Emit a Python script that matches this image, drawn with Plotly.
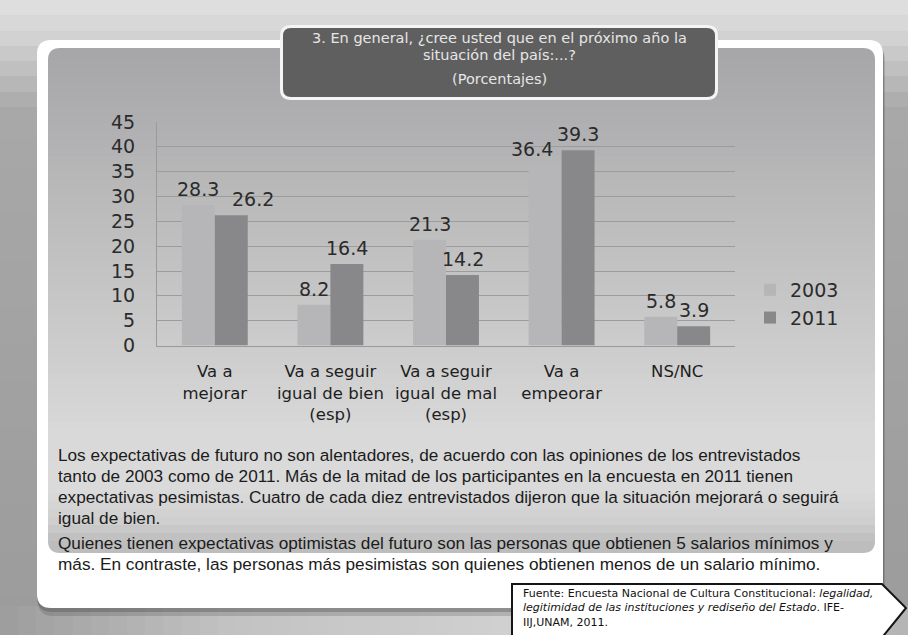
import plotly.graph_objects as go

W, H = 908, 635

# ---------------- data ----------------
categories = ["Va a<br>mejorar", "Va a seguir<br>igual de bien<br>(esp)",
              "Va a seguir<br>igual de mal<br>(esp)", "Va a<br>empeorar", "NS/NC"]
series_names = ["2003", "2011"]
values_2003 = [28.3, 8.2, 21.3, 36.4, 5.8]
values_2011 = [26.2, 16.4, 14.2, 39.3, 3.9]
y_ticks = [0, 5, 10, 15, 20, 25, 30, 35, 40, 45]

title_lines = ["3. En general, ¿cree usted que en el próximo año la",
               "situación del país:...?",
               "(Porcentajes)"]
paragraph_lines = [
    "Los expectativas de futuro no son alentadores, de acuerdo con las opiniones de los entrevistados",
    "tanto de 2003 como de 2011. Más de la mitad de los participantes en la encuesta en 2011 tienen",
    "expectativas pesimistas. Cuatro de cada diez entrevistados dijeron que la situación mejorará o seguirá",
    "igual de bien.",
    "Quienes tienen expectativas optimistas del futuro son las personas que obtienen 5 salarios mínimos y",
    "más. En contraste, las personas más pesimistas son quienes obtienen menos de un salario mínimo.",
]
source_lines = [
    "Fuente: Encuesta Nacional de Cultura Constitucional: <i>legalidad,</i>",
    "<i>legitimidad de las instituciones y rediseño del Estado</i>. IFE-",
    "IIJ,UNAM, 2011.",
]

# label nudges (pixels) for the value labels, per series, per category
label_nudge = {"2003": [0, 0, 0, -13, 0], "2011": [22, 0, 0, 0, 0]}

# ---------------- helpers ----------------
def X(x):
    return x / W


def Y(y):
    return 1 - y / H


def hex2rgb(h):
    h = h.lstrip("#")
    return tuple(int(h[i:i + 2], 16) for i in (0, 2, 4))


def lerp(stops, t):
    for i in range(len(stops) - 1):
        t0, c0 = stops[i]
        t1, c1 = stops[i + 1]
        if t0 <= t <= t1:
            f = 0 if t1 == t0 else (t - t0) / (t1 - t0)
            a, b = hex2rgb(c0), hex2rgb(c1)
            return "rgb(%d,%d,%d)" % tuple(round(a[k] + (b[k] - a[k]) * f) for k in range(3))
    return "rgb(%d,%d,%d)" % hex2rgb(stops[-1][1])


def rr_path(x0, y0, x1, y1, r):
    return (f"M {X(x0 + r)},{Y(y0)} L {X(x1 - r)},{Y(y0)} Q {X(x1)},{Y(y0)} {X(x1)},{Y(y0 + r)} "
            f"L {X(x1)},{Y(y1 - r)} Q {X(x1)},{Y(y1)} {X(x1 - r)},{Y(y1)} "
            f"L {X(x0 + r)},{Y(y1)} Q {X(x0)},{Y(y1)} {X(x0)},{Y(y1 - r)} "
            f"L {X(x0)},{Y(y0 + r)} Q {X(x0)},{Y(y0)} {X(x0 + r)},{Y(y0)} Z")


shapes = []


def rect(x0, y0, x1, y1, color):
    shapes.append(dict(type="rect", xref="paper", yref="paper", layer="below",
                       x0=X(x0), x1=X(x1), y0=Y(y1), y1=Y(y0),
                       fillcolor=color, line=dict(width=0)))


def path(p, color, lw=0, lc="rgba(0,0,0,0)"):
    shapes.append(dict(type="path", xref="paper", yref="paper", layer="below",
                       path=p, fillcolor=color, line=dict(width=lw, color=lc)))


def vgrad(x0, y0, x1, y1, stops, n):
    step = (y1 - y0) / n
    for i in range(n):
        ya = round(y0 + i * step)
        yb = round(y0 + (i + 1) * step) + 1
        c = lerp(stops, (i + 0.5) / n)
        rect(x0, ya, x1, min(y1, yb), c)


def hgrad(x0, y0, x1, y1, stops, n):
    step = (x1 - x0) / n
    for i in range(n):
        xa = round(x0 + i * step)
        xb = round(x0 + (i + 1) * step) + 1
        c = lerp(stops, (i + 0.5) / n)
        rect(xa, y0, min(x1, xb), y1, c)


# ---------------- background ----------------
vgrad(0, 0, W, 612, [(0, "#e0e0e0"), (0.05, "#d6d6d6"), (0.18, "#a8a8a8"), (1, "#9c9c9c")], 40)
hgrad(0, 606, W, H, [(0, "#9c9c9c"), (0.25, "#c2c2c2"), (0.55, "#d0d0d0"), (1, "#b4b4b4")], 50)

# white panel with shadow
path(rr_path(38, 46, 885, 616, 15), "rgba(70,70,70,0.22)")
path(rr_path(37, 42, 884, 612, 15), "rgba(70,70,70,0.32)")
path(rr_path(37, 40, 883, 608, 14), "#ffffff")

# grey gradient panel
gp = (48, 48, 875, 553, 12)
gstops = [(0, "#a7a7aa"), (0.2, "#b4b4b6"), (0.42, "#c2c2c3"), (0.62, "#cecece"),
          (0.78, "#d9d9d9"), (0.9, "#dadada"), (0.96, "#cfcfcf"), (1, "#bdbdbd")]
path(rr_path(gp[0], gp[1], gp[2], gp[1] + 2 * gp[4], gp[4]), lerp(gstops, 0))
path(rr_path(gp[0], gp[3] - 2 * gp[4], gp[2], gp[3], gp[4]), lerp(gstops, 1))
vgrad(gp[0], gp[1] + gp[4], gp[2], gp[3] - gp[4], gstops, 60)

# title box
path(rr_path(280, 25, 718, 100, 11), "#f4f4f4")
path(rr_path(283, 28, 715, 97, 8), "#5f5f5f")

# source box
shapes.append(dict(type="path", xref="paper", yref="paper", layer="below",
                   path=f"M {X(512)},{Y(584)} L {X(882)},{Y(584)} L {X(906)},{Y(608)} "
                        f"L {X(880)},{Y(640)} L {X(512)},{Y(640)} Z",
                   fillcolor="#ffffff", line=dict(width=2, color="#151515")))

# ---------------- chart ----------------
fig = go.Figure()
bar_colors = ["#b6b6b8", "#88888b"]
series_values = [values_2003, values_2011]
for name, vals, col in zip(series_names, series_values, bar_colors):
    fig.add_trace(go.Bar(
        x=categories, y=vals, name=name, marker=dict(color=col, line=dict(width=0)),
        legendgroup=name, hoverinfo="x+y+name",
    ))

annotations = []
# value labels
bar_half = 16.5
for si, (name, vals) in enumerate(zip(series_names, series_values)):
    side = -1 if si == 0 else 1
    for ci, (cat, v) in enumerate(zip(categories, vals)):
        annotations.append(dict(
            text=f"{v:.1f}", x=cat, y=v, xref="x", yref="y", showarrow=False,
            xanchor="center", yanchor="bottom",
            xshift=side * bar_half + label_nudge[name][ci], yshift=3,
            font=dict(family="DejaVu Sans", size=19, color="#2b2b2b")))

for txt, yy in zip(title_lines, [38, 55, 79]):
    annotations.append(dict(text=txt, x=X(499), y=Y(yy), xref="paper", yref="paper",
                            xanchor="center", yanchor="middle", showarrow=False,
                            font=dict(family="DejaVu Sans", size=14.5, color="#e6e6e6")))
for txt, yy in zip(paragraph_lines, [455, 476, 497, 518, 543, 564]):
    annotations.append(dict(text=txt, x=X(56), y=Y(yy), xref="paper", yref="paper",
                            xanchor="left", yanchor="middle", showarrow=False,
                            font=dict(family="Liberation Sans, Arial, sans-serif",
                                      size=17.2, color="#1b1b1b")))
annotations.append(dict(text="<br>".join(source_lines), x=X(521), y=Y(585), xref="paper",
                        yref="paper", xanchor="left", yanchor="top", align="left",
                        showarrow=False,
                        font=dict(family="DejaVu Sans", size=11, color="#111111")))

fig.update_layout(
    width=W, height=H, margin=dict(l=0, r=0, t=0, b=0, pad=0, autoexpand=False),
    paper_bgcolor="#a0a0a0", plot_bgcolor="rgba(0,0,0,0)",
    barmode="group", bargap=0.43, bargroupgap=0,
    shapes=shapes, annotations=annotations,
    showlegend=True,
    legend=dict(x=X(750), y=Y(271), xanchor="left", yanchor="top",
                bgcolor="rgba(0,0,0,0)", traceorder="grouped", tracegroupgap=0,
                font=dict(family="DejaVu Sans", size=19, color="#2b2b2b")),
    xaxis=dict(domain=[X(157), X(735)], showline=True, linecolor="#9a9a9a", linewidth=1,
               showgrid=False, ticks="", ticklabelstandoff=11,
               tickfont=dict(family="DejaVu Sans", size=16.5, color="#1e1e1e")),
    yaxis=dict(domain=[Y(345.5), Y(122)], range=[0, 45], tickvals=y_ticks,
               showline=True, linecolor="#9a9a9a", linewidth=1,
               showgrid=True, gridcolor="#9c9c9c", gridwidth=1, zeroline=False,
               ticks="", ticklabelstandoff=17,
               tickfont=dict(family="DejaVu Sans", size=19, color="#2b2b2b")),
)

fig.write_html("out.html", config={"displayModeBar": False},
               post_script="document.body.style.margin='0';")
